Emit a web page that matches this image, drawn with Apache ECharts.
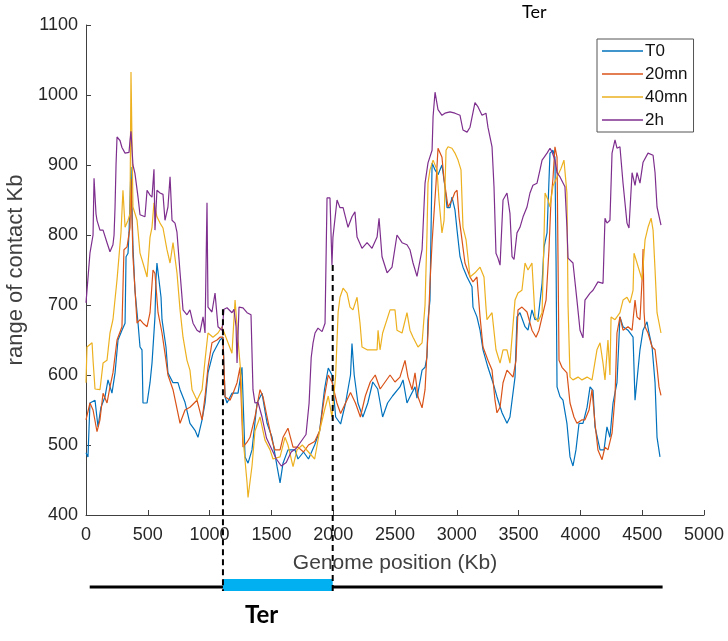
<!DOCTYPE html>
<html>
<head>
<meta charset="utf-8">
<script src="https://cdn.jsdelivr.net/npm/echarts@6/dist/echarts.min.js"></script>
<style>
html,body{margin:0;padding:0;background:#fff;}
#chart{width:728px;height:641px;}
</style>
</head>
<body>
<div id="chart"></div>
<script>
// ---- data (x in Kb, y = range of contact in Kb) ----
const seriesNames = ['T0', '20mn', '40mn', '2h'];
const xTicks = [0, 500, 1000, 1500, 2000, 2500, 3000, 3500, 4000, 4500, 5000];
const yTicks = [400, 500, 600, 700, 800, 900, 1000, 1100];

const t0 = [[0,489],[16,483],[32,560],[73,564],[97,526],[121,554],[154,569],[178,593],[210,574],[235,603],[259,650],[291,664],[316,674],[324,769],[340,774],[348,803],[364,897],[380,783],[396,721],[421,674],[437,640],[453,636],[461,560],[494,560],[518,589],[534,617],[558,683],[566,736],[574,760],[607,711],[615,679],[647,640],[663,603],[704,589],[744,589],[761,579],[801,561],[841,531],[882,521],[906,511],[939,536],[963,560],[987,603],[1027,631],[1084,650],[1108,654],[1125,569],[1141,560],[1181,574],[1230,574],[1262,611],[1287,483],[1311,474],[1343,493],[1384,560],[1424,574],[1465,531],[1505,511],[1546,469],[1570,446],[1594,474],[1634,493],[1691,493],[1715,480],[1760,490],[1800,480],[1850,500],[1890,520],[1930,580],[1960,610],[1990,600],[2020,540],[2060,530],[2100,560],[2140,600],[2152,645],[2170,600],[2200,560],[2240,540],[2280,560],[2320,590],[2360,580],[2400,540],[2440,560],[2480,570],[2540,583],[2565,593],[2597,560],[2621,569],[2662,583],[2678,567],[2719,607],[2743,611],[2759,626],[2767,679],[2783,707],[2800,903],[2824,893],[2848,886],[2880,900],[2904,869],[2921,839],[2945,839],[2961,854],[2985,836],[3002,807],[3026,769],[3050,754],[3083,740],[3123,726],[3131,697],[3163,683],[3188,664],[3212,636],[3252,611],[3293,589],[3325,569],[3366,546],[3406,531],[3430,540],[3471,597],[3487,683],[3511,689],[3552,669],[3576,664],[3608,693],[3633,679],[3657,680],[3690,731],[3706,783],[3730,803],[3754,917],[3778,921],[3794,911],[3803,764],[3811,583],[3835,569],[3859,564],[3891,531],[3916,483],[3940,470],[3964,493],[3989,531],[4021,531],[4054,554],[4078,583],[4102,578],[4118,526],[4159,493],[4191,493],[4215,526],[4239,511],[4264,560],[4296,589],[4320,683],[4345,669],[4385,664],[4426,654],[4442,564],[4458,564],[4482,636],[4507,664],[4539,676],[4555,660],[4580,640],[4604,589],[4620,511],[4644,483]];

const m20 = [[0,536],[32,560],[57,550],[89,519],[113,536],[138,574],[170,560],[194,583],[218,603],[251,650],[291,669],[307,779],[332,783],[356,811],[364,880],[380,769],[413,674],[437,679],[461,674],[494,669],[518,689],[542,750],[558,745],[583,689],[615,660],[639,631],[663,600],[704,579],[761,531],[801,550],[841,554],[898,564],[939,536],[963,569],[987,611],[1019,646],[1060,650],[1084,654],[1108,654],[1125,569],[1165,564],[1190,574],[1222,589],[1246,611],[1270,497],[1303,504],[1327,511],[1367,540],[1408,579],[1432,569],[1465,540],[1505,507],[1529,493],[1570,493],[1594,511],[1634,524],[1675,497],[1715,497],[1760,490],[1800,500],[1850,505],[1890,520],[1930,570],[1960,600],[1990,590],[2030,560],[2060,545],[2100,560],[2140,575],[2180,560],[2220,540],[2260,570],[2300,590],[2340,600],[2380,580],[2420,590],[2460,600],[2500,590],[2540,597],[2581,621],[2605,597],[2638,579],[2662,603],[2686,569],[2719,553],[2743,579],[2767,660],[2783,731],[2800,789],[2808,811],[2832,874],[2848,924],[2880,911],[2897,879],[2913,860],[2929,840],[2961,850],[2985,861],[3002,864],[3018,826],[3042,793],[3066,760],[3107,740],[3131,733],[3163,740],[3188,683],[3212,640],[3252,621],[3285,607],[3309,564],[3325,546],[3350,554],[3374,589],[3406,607],[3455,597],[3479,621],[3495,693],[3527,697],[3568,690],[3608,664],[3641,654],[3665,664],[3690,683],[3722,707],[3746,780],[3762,850],[3778,880],[3794,926],[3811,911],[3819,764],[3827,621],[3851,611],[3891,603],[3916,560],[3948,540],[3972,531],[4013,536],[4037,536],[4070,550],[4094,579],[4118,531],[4142,493],[4175,479],[4199,497],[4223,493],[4256,517],[4280,569],[4296,660],[4320,683],[4345,664],[4385,669],[4418,664],[4442,707],[4458,683],[4482,679],[4499,736],[4507,780],[4515,690],[4523,669],[4547,660],[4580,640],[4604,636],[4620,611],[4636,583],[4652,571]];

const m40 = [[0,589],[8,640],[49,646],[57,621],[73,580],[113,579],[138,617],[170,621],[194,660],[218,679],[251,736],[283,803],[299,864],[316,811],[340,821],[356,830],[364,1033],[380,840],[413,821],[437,774],[461,760],[494,740],[518,797],[534,811],[550,846],[574,826],[599,817],[623,810],[655,779],[680,760],[704,789],[736,746],[761,693],[785,654],[817,621],[841,607],[858,579],[898,564],[939,579],[963,621],[987,660],[1027,654],[1068,660],[1100,669],[1149,646],[1181,631],[1206,707],[1230,650],[1254,600],[1270,511],[1303,446],[1311,425],[1343,470],[1367,520],[1408,540],[1448,507],[1489,493],[1513,480],[1570,483],[1610,511],[1634,500],[1675,469],[1707,493],[1750,500],[1800,490],[1850,480],[1890,520],[1930,550],[1960,570],[1990,540],[2020,600],[2040,690],[2055,711],[2080,724],[2112,717],[2136,697],[2160,693],[2193,711],[2217,674],[2233,640],[2274,636],[2355,636],[2363,664],[2379,636],[2400,660],[2460,693],[2500,693],[2516,664],[2557,660],[2597,689],[2621,664],[2646,654],[2686,640],[2719,646],[2743,700],[2759,803],[2767,874],[2783,893],[2808,907],[2840,893],[2856,850],[2880,803],[2897,821],[2913,921],[2929,926],[2961,924],[2985,917],[3010,907],[3034,893],[3050,811],[3075,793],[3107,740],[3147,746],[3188,754],[3220,740],[3236,697],[3244,679],[3285,689],[3317,636],[3350,617],[3374,636],[3406,636],[3430,617],[3471,707],[3495,717],[3527,721],[3552,760],[3576,750],[3608,760],[3633,683],[3657,676],[3690,689],[3706,800],[3714,860],[3738,850],[3754,840],[3778,870],[3811,883],[3843,895],[3867,907],[3891,860],[3900,700],[3916,597],[3940,593],[3981,597],[4013,593],[4054,597],[4094,593],[4134,636],[4159,646],[4183,617],[4199,593],[4223,650],[4239,600],[4248,683],[4280,679],[4320,689],[4345,707],[4377,711],[4401,703],[4426,721],[4434,774],[4458,760],[4499,736],[4523,793],[4547,811],[4572,824],[4588,807],[4604,750],[4620,689],[4652,660]];

const h2 = [[0,703],[32,774],[57,800],[65,881],[81,830],[89,821],[113,807],[138,807],[170,789],[194,776],[218,786],[227,800],[235,840],[243,900],[251,940],[275,935],[291,925],[316,917],[348,918],[356,935],[364,948],[380,900],[396,888],[421,854],[437,829],[477,826],[494,864],[518,857],[534,854],[550,894],[558,807],[574,864],[599,860],[623,858],[639,821],[663,840],[680,883],[696,821],[720,817],[736,804],[761,746],[785,693],[817,686],[841,693],[866,674],[898,664],[922,661],[947,683],[963,660],[979,846],[987,697],[1019,690],[1044,717],[1068,669],[1100,664],[1117,694],[1141,696],[1181,689],[1197,694],[1214,669],[1222,617],[1238,697],[1270,696],[1303,689],[1335,686],[1351,579],[1367,560],[1392,561],[1424,540],[1460,510],[1500,495],[1540,480],[1580,470],[1620,475],[1660,490],[1700,495],[1740,505],[1780,515],[1805,560],[1822,625],[1837,646],[1853,660],[1877,667],[1910,662],[1934,674],[1950,853],[1974,853],[1990,757],[1998,797],[2031,850],[2055,839],[2080,839],[2120,811],[2152,826],[2176,833],[2193,797],[2233,781],[2274,789],[2314,781],[2355,797],[2371,824],[2395,769],[2436,746],[2476,754],[2516,800],[2557,789],[2597,786],[2621,779],[2646,760],[2678,741],[2719,779],[2743,874],[2767,903],[2800,921],[2808,969],[2824,1004],[2848,979],[2880,971],[2904,974],[2945,976],[2985,974],[3026,971],[3050,950],[3083,947],[3107,954],[3147,989],[3172,983],[3204,971],[3236,974],[3252,954],[3285,926],[3301,869],[3317,774],[3333,767],[3350,757],[3374,850],[3406,860],[3430,831],[3447,769],[3463,765],[3487,803],[3511,811],[3536,826],[3568,840],[3592,860],[3616,871],[3649,874],[3673,893],[3690,907],[3706,911],[3730,917],[3754,924],[3770,919],[3794,907],[3811,889],[3835,883],[3875,869],[3891,811],[3900,767],[3940,760],[3972,707],[3997,664],[4021,653],[4037,707],[4078,717],[4102,721],[4142,733],[4183,731],[4199,824],[4215,817],[4239,821],[4256,917],[4280,936],[4296,924],[4320,926],[4345,874],[4377,817],[4393,810],[4418,889],[4442,871],[4458,889],[4482,874],[4507,904],[4547,917],[4588,914],[4604,889],[4620,840],[4652,814]];

// Ter region annotation (Kb) and dashed-line tops (range value)
const terStart = 1108, terEnd = 1996;
const dashTops = [694, 757];
const genomeSpan = [30, 4665];

const colors = ['#0072BD', '#D95319', '#EDB120', '#7E2F8E'];
const allData = [t0, m20, m40, h2];

const chart = echarts.init(document.getElementById('chart'), null, {renderer: 'canvas'});
const axisColor = '#404040';
const font = 'Liberation Sans, Arial, Helvetica, sans-serif';

const option = {
  animation: false,
  backgroundColor: '#fff',
  grid: {left: 86, right: 24, top: 25, bottom: 126, containLabel: false, outerBoundsMode: 'none'},
  xAxis: {
    type: 'value', min: xTicks[0], max: xTicks[xTicks.length - 1], interval: 500,
    name: 'Genome position (Kb)', nameLocation: 'middle', nameGap: 38,
    nameTextStyle: {color: '#404040', fontSize: 21, fontFamily: font},
    axisLine: {show: true, onZero: false, lineStyle: {color: axisColor, width: 1}},
    axisTick: {show: true, inside: true, length: 5, lineStyle: {color: axisColor}},
    axisLabel: {color: '#262626', fontSize: 18, fontFamily: font, margin: 11, formatter: v => String(v)},
    splitLine: {show: false}
  },
  yAxis: {
    type: 'value', min: yTicks[0], max: yTicks[yTicks.length - 1], interval: 100,
    name: 'range of contact Kb', nameLocation: 'middle', nameGap: 47,
    nameTextStyle: {color: '#404040', fontSize: 22, fontFamily: font},
    axisLine: {show: true, onZero: false, lineStyle: {color: axisColor, width: 1}},
    axisTick: {show: true, inside: true, length: 5, lineStyle: {color: axisColor}},
    axisLabel: {color: '#262626', fontSize: 18, fontFamily: font, margin: 8, formatter: v => String(v)},
    splitLine: {show: false}
  },
  legend: {
    orient: 'vertical', left: 597, top: 39,
    data: seriesNames,
    icon: 'rect', itemWidth: 41, itemHeight: 1.5, itemGap: 3,
    padding: [2, 6, 2, 5],
    borderColor: '#555', borderWidth: 1, backgroundColor: '#fff',
    textStyle: {color: '#111', fontSize: 17, fontFamily: font, lineHeight: 20, padding: [0, 0, 0, -3]}
  },
  series: seriesNames.map((n, i) => ({
    name: n, type: 'line', data: allData[i], showSymbol: false, symbol: 'none',
    lineStyle: {color: colors[i], width: 1.2}, itemStyle: {color: colors[i]},
    z: 2 + i
  }))
};
chart.setOption(option);

// overlay graphics positioned from data coordinates
const px = (x, y) => chart.convertToPixel({gridIndex: 0}, [x, y]);
const barY = 587;
const dash1Top = px(terStart, dashTops[0]);
const dash2Top = px(terEnd, dashTops[1]);
const gStart = px(genomeSpan[0], 400)[0];
const gEnd = px(genomeSpan[1], 400)[0];
const tS = px(terStart, 400)[0];
const tE = px(terEnd, 400)[0];

chart.setOption({
  graphic: [
    {type: 'line', shape: {x1: gStart, y1: barY, x2: gEnd, y2: barY}, style: {stroke: '#000', lineWidth: 3}, z: 10},
    {type: 'rect', shape: {x: tS, y: 579, width: tE - tS, height: 12}, style: {fill: '#00B0F0'}, z: 11},
    {type: 'line', shape: {x1: dash1Top[0], y1: dash1Top[1], x2: dash1Top[0], y2: 591}, style: {stroke: '#000', lineWidth: 2, lineDash: [6, 4]}, z: 12},
    {type: 'line', shape: {x1: dash2Top[0], y1: dash2Top[1], x2: dash2Top[0], y2: 591}, style: {stroke: '#000', lineWidth: 2, lineDash: [6, 4]}, z: 12},
    {type: 'text', left: 245, top: 603, style: {text: 'Ter', fill: '#000', font: 'bold 24px Lato, Carlito, sans-serif'}, z: 12},
    {type: 'text', left: 522, top: 3, style: {text: 'Ter', fill: '#000', font: '18px Lato, Carlito, sans-serif'}, z: 12}
  ]
});
</script>
</body>
</html>
